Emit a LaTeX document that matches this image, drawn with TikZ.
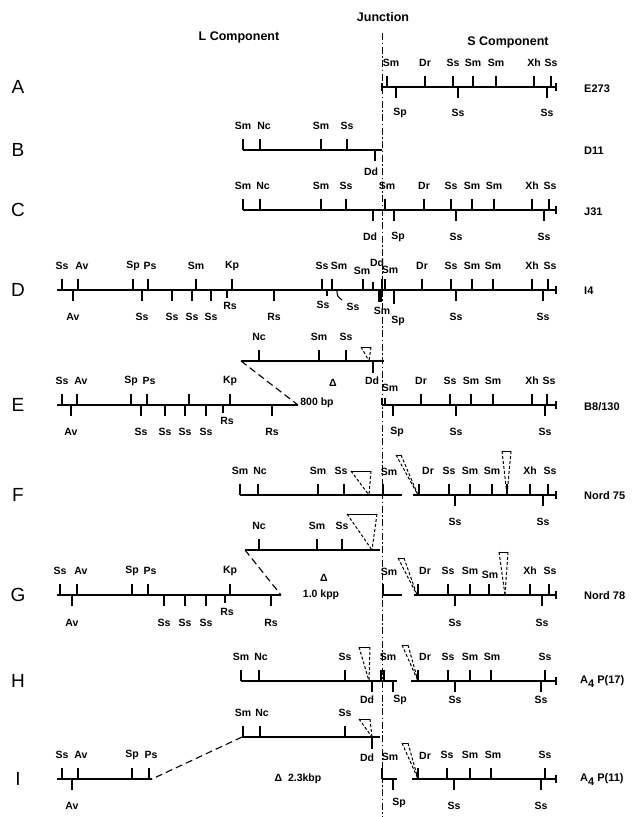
\documentclass[tikz,border=0pt]{standalone}
\usepackage{fontspec}
\setmainfont{Liberation Sans}
\newcounter{nn}
\tikzset{
  ln/.style={line width=1.2pt},
  tk/.style={line width=1.1pt},
  lb/.style={font=\bfseries\fontsize{10.5}{12}\selectfont, inner sep=0pt},
  rl/.style={font=\fontsize{19}{21}\selectfont, inner sep=0pt},
  nm/.style={font=\bfseries\fontsize{11}{13}\selectfont, anchor=west, inner sep=0pt},
  tt/.style={font=\bfseries\fontsize{12.5}{14}\selectfont, inner sep=0pt},
  dl/.style={line width=1pt, dash pattern=on 3pt off 2pt},
  cn/.style={line width=1.1pt, dash pattern=on 7pt off 4pt},
  jnl/.style={line width=1pt, dash pattern=on 7pt off 2.5pt on 1.5pt off 2.5pt},
}
\newcommand{\lab}[3]{\stepcounter{nn}\node[lb] (n\arabic{nn}) at (#1,#2) {#3};}
\newcommand{\tu}[3][0]{\draw[tk] (#2,\ry) -- (#2,\ry-11); \lab{#2+#1}{\ry-24}{#3}}
\newcommand{\td}[3][0]{\draw[tk] (#2,\ry) -- (#2,\ry+11); \lab{#2+#1}{\ry+\dy}{#3}}
\newcommand{\rcap}[1]{\draw[tk] (#1,\ry-4) -- (#1,\ry+4);}
\newcommand{\delt}[5]{\draw[line width=0.9pt] (#1,#3) -- (#2,#3); \draw[dl] (#1,#3) -- (#4,#5); \draw[dl] (#2,#3) -- (#4,#5);}
\begin{document}
\begin{tikzpicture}[x=1pt,y=-1pt]
\fill[white] (0,0) rectangle (636,817);
\useasboundingbox (0,0) rectangle (636,817);

% titles and junction
\node[tt] (jn) at (383,17) {Junction};
\node[tt] (lc) at (239,37) {L Component};
\node[tt] (sc) at (508,42) {S Component};
\coordinate (jtop) at (382,33);
\coordinate (jbot) at (382,817);
\draw[jnl] (jtop) -- (jbot);

% ---------- Row A
\def\ry{87}\def\dy{26}
\node[rl] (rA) at (18,87) {A};
\draw[ln] (382,87) -- (556,87);
\draw[tk] (382,83) -- (382,91);
\rcap{556}
\tu[4]{387}{Sm}\tu{425}{Dr}\tu{453}{Ss}\tu{473}{Sm}\tu{496}{Sm}\tu{534}{Xh}\tu{551}{Ss}
\td[4]{396}{Sp}\td{458}{Ss}\td{547}{Ss}
\node[nm] (nA) at (584,89) {E273};

% ---------- Row B
\def\ry{150}\def\dy{22}
\node[rl] (rB) at (18,150) {B};
\draw[ln] (243,150) -- (382,150);
\tu{243}{Sm}\tu[4]{260}{Nc}\tu{321}{Sm}\tu{347}{Ss}
\td[-4]{375}{Dd}
\node[nm] (nB) at (584,151) {D11};

% ---------- Row C
\def\ry{210}\def\dy{27}
\node[rl] (rC) at (18,210) {C};
\draw[ln] (243,210) -- (556,210);
\rcap{556}
\tu{243}{Sm}\tu[3]{260}{Nc}\tu{321}{Sm}\tu{346}{Ss}\tu[2]{385}{Sm}\tu{424}{Dr}\tu{451}{Ss}\tu{472}{Sm}\tu{494}{Sm}\tu{532}{Xh}\tu[1]{549}{Ss}
\td[-3]{373}{Dd}\td[4]{394}{Sp}\td{456}{Ss}\td{544}{Ss}
\node[nm] (nC) at (584,212) {J31};

% ---------- Row D
\def\ry{290}\def\dy{27}
\node[rl] (rD) at (18,290) {D};
\draw[ln] (57,290) -- (556,290);
\rcap{556}
\tu{62}{Ss}\tu[4]{78}{Av}\tu{133}{Sp}\tu[2]{148}{Ps}\tu{196}{Sm}\tu{232}{Kp}\tu{322}{Ss}\tu[7]{332}{Sm}
\draw[tk] (363,290) -- (363,279); \lab{362}{271}{Sm}
\draw[tk] (373,290) -- (373,282); \lab{377}{263}{Dd}
\draw[tk] (382,290) -- (382,279); \draw[tk] (385,290) -- (385,279); \lab{390}{270}{Sm}
\tu{422}{Dr}\tu{451}{Ss}\tu{472}{Sm}\tu{493}{Sm}\tu{532}{Xh}\tu[2]{548}{Ss}
\td{73}{Av}\td{142}{Ss}\td{172}{Ss}\td{192}{Ss}\td{211}{Ss}
\draw[tk] (227,290) -- (227,298); \lab{230}{306}{Rs}
\td{274}{Rs}
\draw[tk] (327,290) -- (327,296); \lab{323}{305}{Ss}
\draw[tk] (337,290) .. controls (337,296) .. (342,300); \lab{353}{307}{Ss}
\draw[tk] (379,290) -- (379,302); \draw[tk] (381,290) -- (381,302); \lab{382}{311}{Sm}
\draw[tk] (394,290) -- (394,304); \lab{398}{321}{Sp}
\td{456}{Ss}\td{543}{Ss}
\node[nm] (nD) at (584,291) {I4};

% ---------- Row E
\def\ry{361}
\draw[ln] (241,361) -- (384,361);
\tu{259}{Nc}\tu{319}{Sm}\tu{346}{Ss}
\draw[tk] (373,361) -- (373,373); \lab{372}{381}{Dd}
\delt{361}{371}{347}{369}{361}
\coordinate (eU) at (241,361);
\coordinate (eM) at (298,405);
\draw[cn] (eU) -- (eM);
\def\ry{405}\def\dy{27}
\node[rl] (rE) at (18,405) {E};
\draw[ln] (57,405) -- (298,405);
\tu{62}{Ss}\tu[4]{77}{Av}\tu{131}{Sp}\tu[2]{147}{Ps}\draw[tk] (189,405) -- (189,394);\tu{230}{Kp}
\td{71}{Av}\td{141}{Ss}\td{165}{Ss}\td{185}{Ss}\td{206}{Ss}
\draw[tk] (223,405) -- (223,413); \lab{227}{421}{Rs}
\td{272}{Rs}
\draw[ln] (382,405) -- (556,405);
\rcap{556}
\draw[tk] (382,405) -- (382,398); \draw[tk] (385,405) -- (385,398); \lab{390}{388}{Sm}
\tu{421}{Dr}\tu{450}{Ss}\tu{471}{Sm}\tu{493}{Sm}\tu{532}{Xh}\tu[2]{547}{Ss}
\td[4]{393}{Sp}\td{456}{Ss}\td{545}{Ss}
\node[lb] (dE) at (333,383) {Δ};
\node[lb] (kE) at (317,403) {800 bp};
\node[nm] (nE) at (584,407) {B8/130};

% ---------- Row F
\def\ry{495}\def\dy{27}
\node[rl] (rF) at (18,495) {F};
\draw[ln] (240,495) -- (402,495);
\draw[ln] (413,495) -- (556,495);
\rcap{556}
\tu{240}{Sm}\tu[2]{258}{Nc}\tu{318}{Sm}\tu[-3]{344}{Ss}
\draw[tk] (383,495) -- (383,484); \lab{389}{472}{Sm}
\delt{351}{371}{471}{369}{495}
\delt{396}{401}{455}{418}{495}
\draw[tk] (419,495) -- (419,484); \lab{428}{471}{Dr}
\tu{449}{Ss}\tu{470}{Sm}\tu{492}{Sm}
\delt{502}{511}{451}{507}{495}
\draw[tk] (507,495) -- (507,484);
\tu{530}{Xh}\tu[2]{548}{Ss}
\td{455}{Ss}\td{543}{Ss}
\node[nm] (nF) at (584,496) {Nord 75};

% ---------- Row G
\def\ry{550}
\draw[ln] (245,550) -- (380,550);
\tu{259}{Nc}\tu{317}{Sm}\tu{342}{Ss}
\delt{347}{377}{514}{372}{550}
\coordinate (gU) at (245,550);
\coordinate (gM) at (281,595);
\draw[cn] (gU) -- (gM);
\def\ry{595}\def\dy{28}
\node[rl] (rG) at (18,595) {G};
\draw[ln] (57,595) -- (281,595);
\tu{60}{Ss}\tu[4]{77}{Av}\tu{132}{Sp}\tu[2]{148}{Ps}\tu{230}{Kp}
\td{72}{Av}\td{164}{Ss}\td{185}{Ss}\td{206}{Ss}
\draw[tk] (225,595) -- (225,603); \lab{227}{612}{Rs}
\td{271}{Rs}
\draw[ln] (382,595) -- (402,595);
\draw[tk] (383,595) -- (383,584); \lab{389}{572}{Sm}
\draw[ln] (414,595) -- (556,595);
\rcap{556}
\delt{398}{404}{558}{417}{595}
\draw[tk] (418,595) -- (418,584); \lab{425}{571}{Dr}
\tu{448}{Ss}\tu{470}{Sm}
\draw[tk] (489,595) -- (489,584); \lab{490}{575}{Sm}
\delt{499}{508}{552}{505}{595}
\tu{530}{Xh}\tu[1]{549}{Ss}
\td{455}{Ss}\td{542}{Ss}
\node[lb] (dG) at (324,578) {Δ};
\node[lb] (kG) at (321,595) {1.0 kpp};
\node[nm] (nG) at (584,596) {Nord 78};

% ---------- Row H
\def\ry{681}\def\dy{19}
\node[rl] (rH) at (18,681) {H};
\draw[ln] (241,681) -- (397,681);
\draw[ln] (411,681) -- (556,681);
\rcap{556}
\tu{241}{Sm}\tu[2]{259}{Nc}\tu{345}{Ss}
\draw[tk] (381,681) -- (381,670); \draw[tk] (384,681) -- (384,670); \lab{388}{657}{Sm}
\delt{359}{370}{647}{369}{681}
\td[-5]{372}{Dd}\td[7]{393}{Sp}
\delt{402}{408}{645}{418}{681}
\draw[tk] (418,681) -- (418,670); \lab{425}{657}{Dr}
\tu{448}{Ss}\tu{470}{Sm}\tu[1]{491}{Sm}\tu{545}{Ss}
\td{455}{Ss}\td{541}{Ss}
\node[nm] (nH) at (580,682) {A\raisebox{-4pt}{4} P(17)};

% ---------- Row I
\def\ry{737}
\draw[ln] (242,737) -- (380,737);
\tu{243}{Sm}\tu[2]{260}{Nc}\tu{345}{Ss}
\delt{359}{370}{719}{372}{737}
\draw[tk] (372,737) -- (372,749); \lab{367}{758}{Dd}
\coordinate (iU) at (242,737);
\coordinate (iM) at (152,779);
\draw[cn] (iU) -- (iM);
\def\ry{779}\def\dy{27}
\node[rl] (rI) at (18,779) {I};
\draw[ln] (57,779) -- (152,779);
\tu{62}{Ss}\tu[3]{78}{Av}\tu{132}{Sp}\tu[2]{149}{Ps}
\td{72}{Av}
\draw[ln] (382,779) -- (397,779);
\draw[tk] (382,779) -- (382,768); \lab{390}{757}{Sm}
\draw[tk] (393,779) -- (393,790); \lab{399}{803}{Sp}
\delt{402}{408}{743}{418}{779}
\draw[ln] (412,779) -- (556,779);
\rcap{556}
\draw[tk] (418,779) -- (418,768); \lab{425}{756}{Dr}
\tu{447}{Ss}\tu{470}{Sm}\tu[2]{491}{Sm}\tu{545}{Ss}
\td{454}{Ss}\td{541}{Ss}
\node[lb] (kI) at (298,779) {Δ\ \ 2.3kbp};
\node[nm] (nI) at (580,780) {A\raisebox{-4pt}{4} P(11)};
\end{tikzpicture}
\end{document}
